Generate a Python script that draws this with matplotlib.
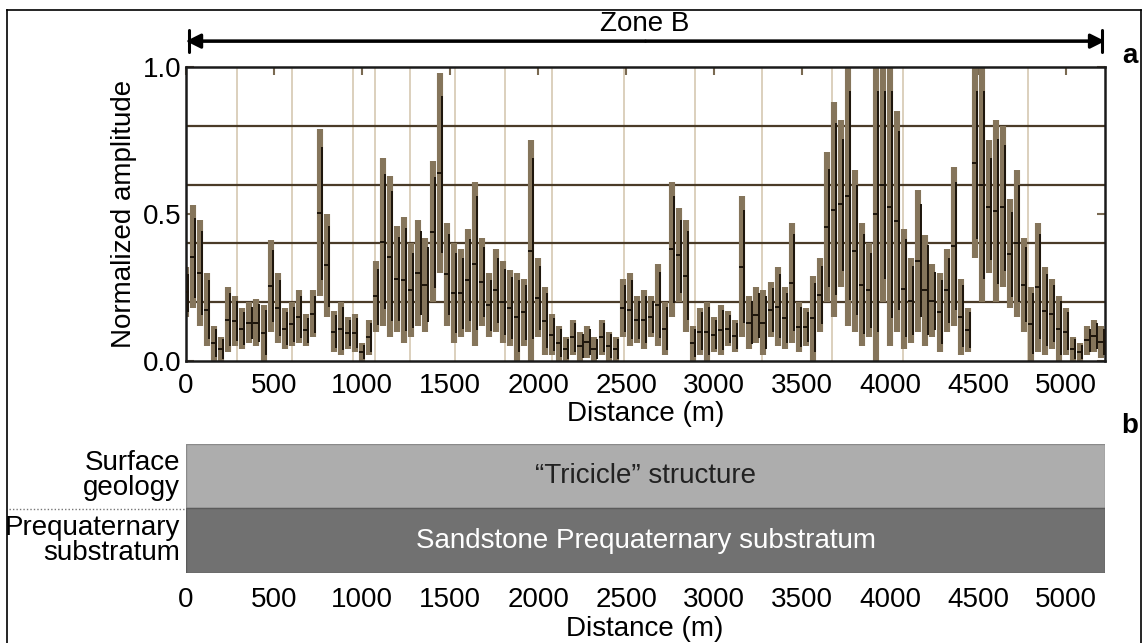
import numpy as np
import matplotlib.pyplot as plt
from matplotlib.patches import Rectangle

# distance of each amplitude sample (m), every 40 m
distance = list(range(0, 5240, 40))

# upper envelope of the normalized amplitude
amp_high = [
    0.32, 0.53, 0.48, 0.30, 0.12, 0.08, 0.25, 0.22, 0.18, 0.20,
    0.21, 0.19, 0.41, 0.30, 0.18, 0.20, 0.24, 0.16, 0.24, 0.79,
    0.50, 0.17, 0.20, 0.15, 0.16, 0.06, 0.14, 0.34, 0.69, 0.63,
    0.46, 0.49, 0.40, 0.48, 0.42, 0.68, 0.98, 0.47, 0.40, 0.38,
    0.45, 0.61, 0.42, 0.30, 0.38, 0.34, 0.31, 0.30, 0.28, 0.75,
    0.35, 0.25, 0.16, 0.12, 0.08, 0.14, 0.10, 0.12, 0.08, 0.14,
    0.10, 0.08, 0.28, 0.30, 0.22, 0.24, 0.22, 0.33, 0.20, 0.61,
    0.52, 0.48, 0.12, 0.18, 0.20, 0.15, 0.19, 0.17, 0.14, 0.56,
    0.22, 0.25, 0.24, 0.27, 0.32, 0.25, 0.47, 0.20, 0.18, 0.29,
    0.35, 0.71, 0.88, 0.82, 1.00, 0.65, 0.47, 0.40, 1.00, 1.00,
    1.00, 0.85, 0.45, 0.35, 0.58, 0.43, 0.33, 0.30, 0.38, 0.66,
    0.28, 0.18, 1.00, 1.00, 0.75, 0.82, 0.80, 0.55, 0.65, 0.42,
    0.25, 0.47, 0.32, 0.28, 0.22, 0.18, 0.08, 0.06, 0.12, 0.14,
    0.12,
]

# lower envelope of the normalized amplitude
amp_low = [
    0.15, 0.18, 0.12, 0.05, 0.00, 0.00, 0.03, 0.05, 0.04, 0.06,
    0.05, 0.00, 0.10, 0.06, 0.04, 0.05, 0.06, 0.05, 0.08, 0.22,
    0.15, 0.03, 0.02, 0.04, 0.03, 0.00, 0.02, 0.10, 0.12, 0.08,
    0.10, 0.06, 0.08, 0.12, 0.10, 0.20, 0.30, 0.12, 0.06, 0.08,
    0.10, 0.05, 0.12, 0.08, 0.10, 0.06, 0.05, 0.00, 0.05, 0.00,
    0.08, 0.02, 0.02, 0.00, 0.00, 0.02, 0.00, 0.01, 0.00, 0.02,
    0.00, 0.00, 0.08, 0.05, 0.06, 0.04, 0.08, 0.05, 0.02, 0.15,
    0.20, 0.10, 0.00, 0.02, 0.00, 0.03, 0.02, 0.05, 0.03, 0.08,
    0.04, 0.06, 0.02, 0.08, 0.05, 0.04, 0.06, 0.03, 0.05, 0.00,
    0.10, 0.20, 0.15, 0.25, 0.12, 0.10, 0.05, 0.08, 0.00, 0.20,
    0.05, 0.10, 0.04, 0.06, 0.10, 0.05, 0.08, 0.03, 0.10, 0.12,
    0.02, 0.03, 0.35, 0.20, 0.30, 0.20, 0.25, 0.18, 0.15, 0.10,
    0.00, 0.03, 0.02, 0.04, 0.00, 0.02, 0.00, 0.00, 0.02, 0.03,
    0.01,
]

# station markers (light vertical lines) along the profile
station_x = [290, 602, 949, 1074, 1273, 1528, 1813, 2080, 2489, 2892,
             3273, 3670, 4074, 4784]

x_ticks = list(range(0, 5001, 500))
y_ticks = [0.0, 0.5, 1.0]
x_max = 5220

plt.rcParams["font.family"] = ["Liberation Sans", "DejaVu Sans"]
fig = plt.figure(figsize=(11.47, 6.43), dpi=100)
fs = 20

# figure frame (top, left, right)
for xs, ys in [([0.006, 0.995], [0.985, 0.985]),
               ([0.006, 0.006], [0.0, 0.985]),
               ([0.995, 0.995], [0.0, 0.985])]:
    fig.add_artist(plt.Line2D(xs, ys, color="black", lw=1.2, transform=fig.transFigure))

# ---- panel a ----
ax = fig.add_axes([0.1622, 0.4386, 0.8012, 0.4572])
for sx in station_x:
    ax.axvline(sx, color="#d9cdb8", lw=1.3, zorder=0)
for gy in [0.2, 0.4, 0.6, 0.8]:
    ax.axhline(gy, color="#4a3b28", lw=1.6, zorder=1)

d = np.array(distance)
hi = np.array(amp_high)
lo = np.array(amp_low)
ax.vlines(d, lo, hi, color="#85755b", lw=4.4, zorder=2)
ax.vlines(d + 12, lo + (hi - lo) * 0.1, hi * 0.92, color="#1c140a", lw=1.4, zorder=3)
ax.plot(d, (hi + lo) / 2, ls="none", marker="_", ms=5, mew=1.4, color="#1c140a", zorder=4)

ax.set_xlim(0, x_max)
ax.set_ylim(0, 1.0)
ax.set_xticks(x_ticks)
ax.set_yticks(y_ticks)
ax.set_yticklabels(["0.0", "0.5", "1.0"], fontsize=fs)
ax.set_xticklabels([str(t) for t in x_ticks], fontsize=fs)
ax.tick_params(axis="x", bottom=False, top=True, direction="in", length=6,
               width=1.5, color="#7a6a52", pad=9)
ax.tick_params(axis="y", left=True, right=True, direction="in", length=6,
               width=1.5, color="#7a6a52", pad=3)
for sp in ax.spines.values():
    sp.set_linewidth(1.8)
    sp.set_color("#1a1a1a")
ax.set_xlabel("Distance (m)", fontsize=fs)
ax.xaxis.set_label_coords(0.5, -0.135)
ax.set_ylabel("Normalized amplitude", fontsize=fs)
ax.yaxis.set_label_coords(-0.053, 0.5)

# Zone B arrow
ax.annotate("", xy=(0, 1.088), xytext=(x_max, 1.088), xycoords=("data", "axes fraction"),
            textcoords=("data", "axes fraction"),
            arrowprops=dict(arrowstyle="|-|", lw=2.2, color="black", mutation_scale=8),
            annotation_clip=False)
ax.annotate("", xy=(0, 1.088), xytext=(x_max / 2, 1.088), xycoords=("data", "axes fraction"),
            textcoords=("data", "axes fraction"),
            arrowprops=dict(arrowstyle="-|>", lw=2.2, color="black", mutation_scale=22, shrinkA=0, shrinkB=0),
            annotation_clip=False)
ax.annotate("", xy=(x_max, 1.088), xytext=(x_max / 2, 1.088), xycoords=("data", "axes fraction"),
            textcoords=("data", "axes fraction"),
            arrowprops=dict(arrowstyle="-|>", lw=2.2, color="black", mutation_scale=22, shrinkA=0, shrinkB=0),
            annotation_clip=False)
fig.text(0.562, 0.963, "Zone B", fontsize=fs, ha="center", va="center")
fig.text(0.985, 0.913, "a", fontsize=fs, fontweight="bold", ha="center", va="center")
fig.text(0.985, 0.338, "b", fontsize=fs, fontweight="bold", ha="center", va="center")

# ---- panel b ----
axb = fig.add_axes([0.1622, 0.109, 0.8012, 0.2007])
axb.add_patch(Rectangle((0, 0.5), x_max, 0.5, facecolor="#adadad", edgecolor="#8a8a8a", lw=1))
axb.add_patch(Rectangle((0, 0), x_max, 0.5, facecolor="#717171", edgecolor="#5a5a5a", lw=1))
axb.text(x_max / 2, 0.75, "\u201cTricicle\u201d structure", fontsize=fs, ha="center", va="center", color="#222222")
axb.text(x_max / 2, 0.25, "Sandstone Prequaternary substratum", fontsize=fs, ha="center", va="center", color="white")
axb.set_xlim(0, x_max)
axb.set_ylim(0, 1)
axb.set_xticks(x_ticks)
axb.set_xticklabels([str(t) for t in x_ticks], fontsize=fs)
axb.set_yticks([])
axb.tick_params(axis="x", length=0, pad=10)
for sp in axb.spines.values():
    sp.set_visible(False)
fig.text(0.562, 0.022, "Distance (m)", fontsize=fs, ha="center", va="center")

fig.text(0.157, 0.261, "Surface\ngeology", fontsize=fs, ha="right", va="center", linespacing=0.95)
fig.text(0.157, 0.159, "Prequaternary\nsubstratum", fontsize=fs, ha="right", va="center", linespacing=0.95)
fig.add_artist(plt.Line2D([0.008, 0.162], [0.2085, 0.2085], color="#777777", lw=1,
                          ls=(0, (1, 1.5)), transform=fig.transFigure))

fig.savefig("out.png", dpi=100)
